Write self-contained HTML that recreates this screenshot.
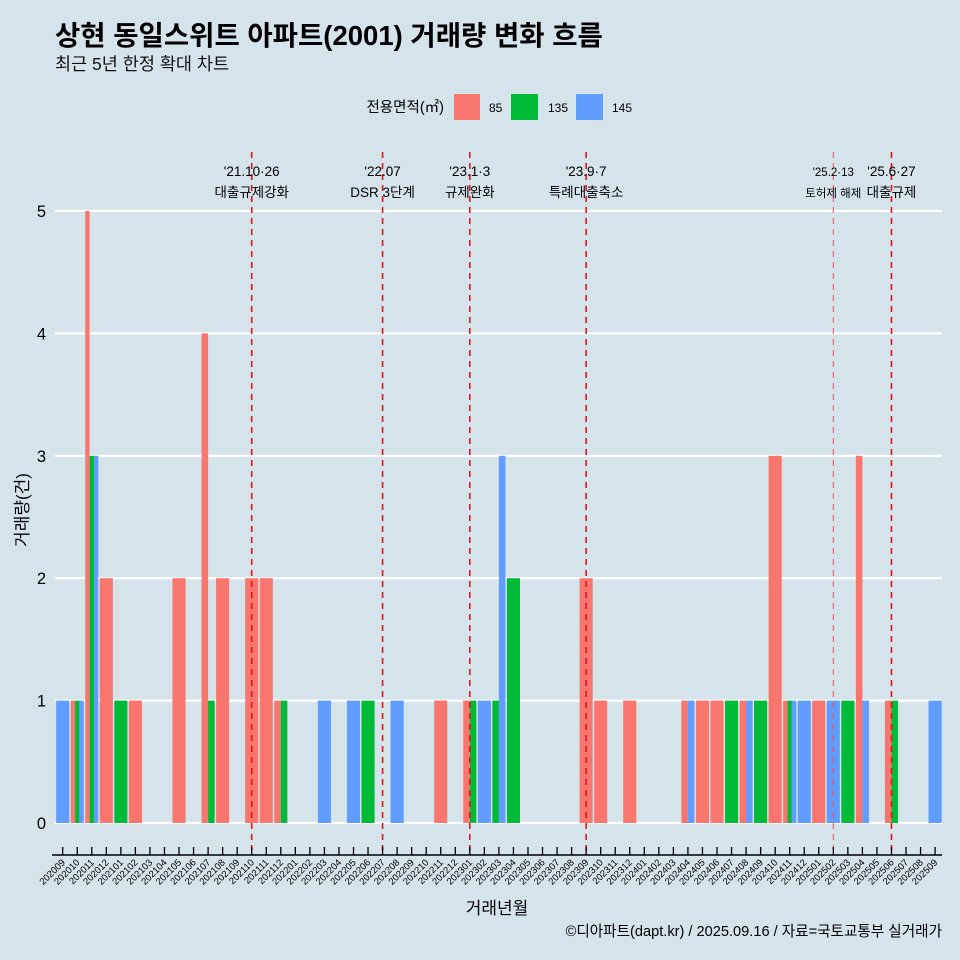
<!DOCTYPE html>
<html><head><meta charset="utf-8">
<style>
body{margin:0;background:#d5e3ea;}
svg{display:block;font-family:"Liberation Sans","Noto Sans CJK KR",sans-serif;}
</style></head>
<body>
<svg id="chart" width="960" height="960" viewBox="0 0 960 960">
<rect width="960" height="960" fill="#d5e3ea"/>
<text x="55" y="45" font-size="27.5" font-weight="bold" fill="#000">상현 동일스위트 아파트(2001) 거래량 변화 흐름</text>
<text x="55" y="70" font-size="17.5" fill="#111">최근 5년 한정 확대 차트</text>
<g>
<text x="444" y="112" font-size="14.5" text-anchor="end">전용면적(㎡)</text>
<rect x="454" y="94" width="26" height="26" fill="#f8766d"/>
<text x="489" y="112" font-size="12">85</text>
<rect x="511" y="94" width="27" height="26" fill="#00ba38"/>
<text x="548" y="112" font-size="12">135</text>
<rect x="576" y="94" width="27" height="26" fill="#619cff"/>
<text x="612" y="112" font-size="12">145</text>
</g>
<g id="grid"></g>
<g id="bars"></g>
<g id="events"></g>
<g id="axes"></g>
<text x="28" y="510" font-size="17" text-anchor="middle" transform="rotate(-90 28 510)">거래량(건)</text>
<text x="497" y="914" font-size="17" text-anchor="middle">거래년월</text>
<text x="942" y="936" font-size="14.6" text-anchor="end">©디아파트(dapt.kr) / 2025.09.16 / 자료=국토교통부 실거래가</text>
</svg>
<script>
const months = [];
for (let y = 2020; y <= 2025; y++) for (let m = 1; m <= 12; m++) {
  const k = y * 100 + m; if (k >= 202009 && k <= 202509) months.push(String(k));
}
const areas = ['85','135','145'];
const colors = {'85':'#f8766d','135':'#00ba38','145':'#619cff'};
const sales85 = {'202010':1,'202011':5,'202012':2,'202102':1,'202105':2,'202107':4,'202108':2,'202110':2,'202111':2,'202112':1,'202211':1,'202301':1,'202309':2,'202310':1,'202312':1,'202404':1,'202405':1,'202406':1,'202408':1,'202410':3,'202411':1,'202501':1,'202504':3,'202506':1};
const sales135 = {'202010':1,'202011':3,'202101':1,'202107':1,'202112':1,'202206':1,'202301':1,'202303':1,'202304':2,'202407':1,'202409':1,'202411':1,'202503':1,'202506':1};
const sales145 = {'202009':1,'202010':1,'202011':3,'202203':1,'202205':1,'202208':1,'202302':1,'202303':3,'202404':1,'202408':1,'202411':1,'202412':1,'202502':1,'202504':1,'202509':1};
const yTicks = [0,1,2,3,4,5];
const eventMonths = ['202110','202207','202301','202309','202502','202506'];
const eventDates = ["'21.10·26","'22.07","'23.1·3","'23.9·7","'25.2·13","'25.6·27"];
const eventNames = ['대출규제강화','DSR 3단계','규제완화','특례대출축소','토허제 해제','대출규제'];

const NS = 'http://www.w3.org/2000/svg';
const X0 = 62.7, STEP = 14.54, Y0 = 823, YU = 122.4;
const xS = i => X0 + i * STEP;
const yS = v => Y0 - v * YU;
function mk(tag, attrs, parent, txt) {
  const e = document.createElementNS(NS, tag);
  for (const k in attrs) e.setAttribute(k, attrs[k]);
  if (txt !== undefined) e.textContent = txt;
  parent.appendChild(e); return e;
}
const grid = document.getElementById('grid'), bars = document.getElementById('bars'),
      ev = document.getElementById('events'), ax = document.getElementById('axes');
yTicks.forEach(t => {
  const l = mk('line', {x1:55, x2:942, y1:yS(t), y2:yS(t), stroke:'#fff', 'stroke-width':2.2}, grid);
  
  
  const tx = mk('text', {x:46, y:yS(t)+6, 'font-size':16.5, 'text-anchor':'end'}, ax, String(t));
  
  
});
const series = {'85':sales85,'135':sales135,'145':sales145};
const W = STEP * 0.9;
months.forEach((m, i) => {
  const present = areas.filter(a => series[a][m]);
  const n = present.length; if (!n) return;
  const w = W / n;
  present.forEach((a, j) => {
    const v = series[a][m];
    const r = mk('rect', {x: xS(i) - W/2 + j*w, y: yS(v), width: w, height: Y0 - yS(v), fill: colors[a]}, bars);
    
    
  });
});
eventMonths.forEach((m, k) => {
  const i = months.indexOf(m), x = xS(i);
  const thin = m === '202502';
  const l = mk('line', {x1:x, x2:x, y1:152, y2:852, stroke: thin ? '#e8505b' : '#e8101a', 'stroke-width': thin ? 1 : 1.6, 'stroke-dasharray':'6,5'}, ev);
  
  
  const fs = thin ? 11.5 : 13.5;
  const t1 = mk('text', {x:x, y:176, 'font-size':fs, 'text-anchor':'middle'}, ev, eventDates[k]);
  
  
  const t2 = mk('text', {x:x, y:197, 'font-size':fs, 'text-anchor':'middle'}, ev, eventNames[k]);
  
  
});
const axl = mk('line', {x1:52, x2:942, y1:855, y2:855, stroke:'#000', 'stroke-width':1.5}, ax);


months.forEach((m, i) => {
  const x = xS(i);
  const t = mk('line', {x1:x, x2:x, y1:847, y2:855, stroke:'#000', 'stroke-width':1.3}, ax);
  
  
  const lb = mk('text', {x:x+3, y:863, 'font-size':9.5, 'text-anchor':'end', transform:'rotate(-45 '+(x+3)+' 863)'}, ax, m);
  
  
});
</script>
</body></html>
